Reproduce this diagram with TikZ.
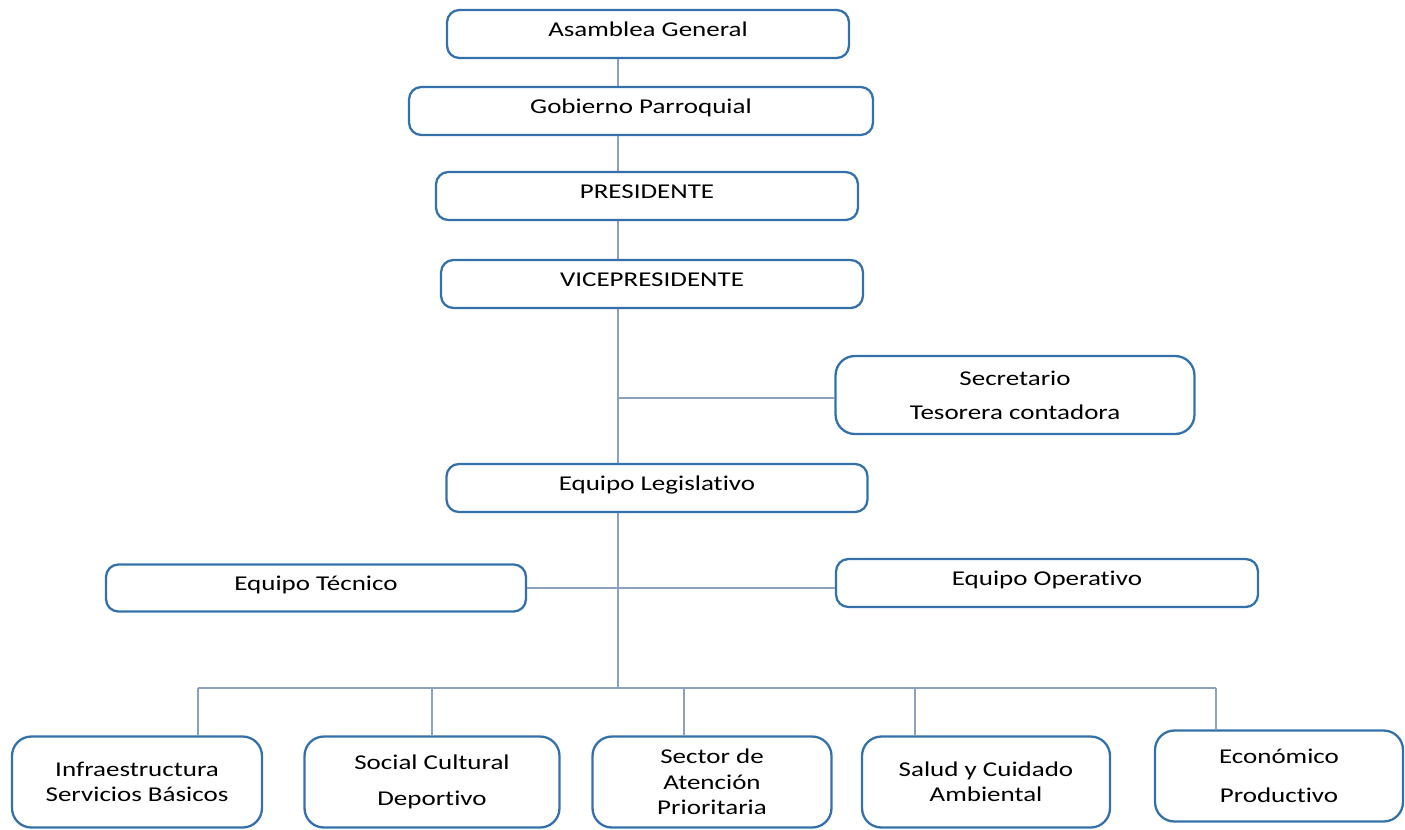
\documentclass[tikz,border=0pt]{standalone}
\usepackage{fontspec}
\setmainfont{Carlito}[FakeStretch=1.28, Ligatures=NoCommon]
\usepackage{tikz}
\usetikzlibrary{calc}

\definecolor{boxblue}{RGB}{52,113,170}
\definecolor{linkgray}{RGB}{140,160,192}

\tikzset{
  box/.style={draw=boxblue, line width=1.3pt, rounded corners=7pt, fill=white,
    minimum height=0.96cm, inner sep=0pt, text depth=0.24cm, text height=0.32cm},
  tallbox/.style={draw=boxblue, line width=1.3pt, rounded corners=11pt, fill=white,
    align=center, inner sep=0pt},
  link/.style={draw=linkgray, line width=0.8pt}
}

\begin{document}
\begin{tikzpicture}[x=0.02cm, y=-0.02cm, font=\fontsize{12}{14.5}\selectfont]
  \useasboundingbox (0,0) rectangle (1405,829);

  \coordinate (sp) at (618,0);
  \coordinate (bus) at (618,688);

  \node[box, minimum width=8.04cm] (ag) at (648,34) {Asamblea General};
  \node[box, minimum width=9.28cm] (gp) at (641,111) {Gobierno Parroquial};
  \node[box, minimum width=8.44cm] (pr) at (647,196) {PRESIDENTE};
  \node[box, minimum width=8.44cm] (vp) at (652,284) {VICEPRESIDENTE};
  \node[tallbox, minimum width=7.18cm, minimum height=1.56cm] (sec) at (1015,395)
    {Secretario\\[0.17cm]Tesorera contadora};
  \node[box, minimum width=8.42cm] (el) at (657,488) {Equipo Legislativo};
  \node[box, minimum width=8.4cm, minimum height=0.94cm] (et) at (316,588) {Equipo Técnico};
  \node[box, minimum width=8.44cm] (eo) at (1047,583) {Equipo Operativo};

  \node[tallbox, minimum width=5cm, minimum height=1.82cm] (infra) at (137,782)
    {Infraestructura\\Servicios Básicos};
  \node[tallbox, minimum width=5.1cm, minimum height=1.82cm] (soc) at (432,782)
    {Social Cultural\\[0.22cm]Deportivo};
  \node[tallbox, minimum width=4.78cm, minimum height=1.82cm] (sect) at (712,782)
    {Sector de\\Atención\\Prioritaria};
  \node[tallbox, minimum width=4.96cm, minimum height=1.82cm] (salud) at (986,782)
    {Salud y Cuidado\\Ambiental};
  \node[tallbox, minimum width=4.96cm, minimum height=1.82cm] (eco) at (1279,776)
    {Económico\\[0.26cm]Productivo};

  % spine
  \draw[link] (ag.south -| sp) -- (gp.north -| sp);
  \draw[link] (gp.south -| sp) -- (pr.north -| sp);
  \draw[link] (pr.south -| sp) -- (vp.north -| sp);
  \draw[link] (vp.south -| sp) -- (el.north -| sp);
  \draw[link] (sp |- 0,398) -- (sec.west |- 0,398);
  \draw[link] (el.south -| sp) -- (bus);
  \draw[link] (et.east) -- (et.east -| eo.west);

  % bus to the five areas
  \foreach \n/\x in {infra/198, soc/432, sect/684, salud/915, eco/1216} {
    \coordinate (d-\n) at (\x,688);
    \draw[link] (d-\n) -- (d-\n |- \n.north);
  }
  \draw[link] (d-infra) -- (d-eco);
\end{tikzpicture}
\end{document}
